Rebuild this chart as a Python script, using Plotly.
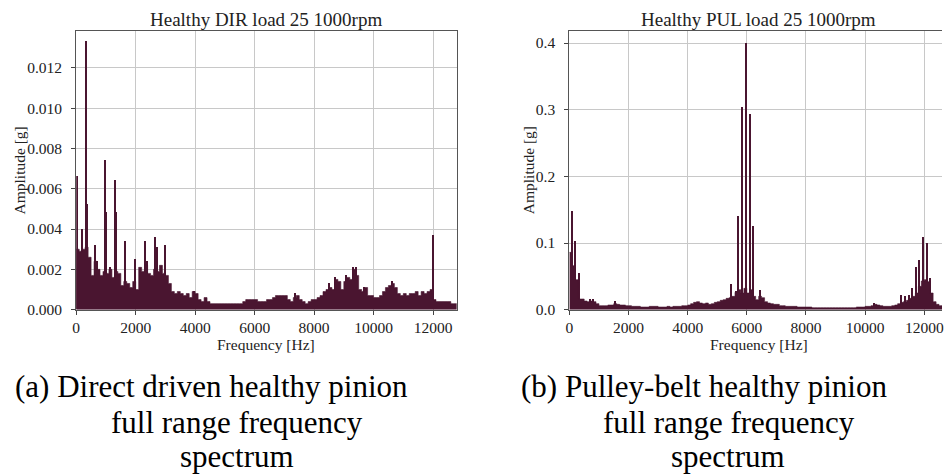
import plotly.graph_objects as go

# ---------------- data ----------------
freq_edges = list(range(0, 12801, 100))  # 100 Hz bins, 0..12800

dir_background = [
    0.0030, 0.0029, 0.0030, 0.0031, 0.0026, 0.0017, 0.0024, 0.0020, 0.0017, 0.0019,
    0.0018, 0.0020, 0.0016, 0.0019, 0.0018, 0.0012, 0.0014, 0.0013, 0.0011, 0.0014,
    0.0010, 0.0021, 0.0019, 0.0022, 0.0018, 0.0017, 0.0020, 0.0019, 0.0022, 0.0018,
    0.0017, 0.0013, 0.0009, 0.0008, 0.0009, 0.0008, 0.0007, 0.0008, 0.0006, 0.0009,
    0.0008, 0.0005, 0.0004, 0.0006, 0.0004, 0.0003, 0.0003, 0.0003, 0.0003, 0.0003,
    0.0003, 0.0003, 0.0003, 0.0003, 0.0003, 0.0003, 0.0004, 0.0005, 0.0005, 0.0005,
    0.0005, 0.0004, 0.0004, 0.0004, 0.0005, 0.0005, 0.0006, 0.0007, 0.0007, 0.0007,
    0.0007, 0.0005, 0.0004, 0.0006, 0.0007, 0.0005, 0.0004, 0.0003, 0.0004, 0.0005,
    0.0005, 0.0006, 0.0007, 0.0009, 0.0010, 0.0011, 0.0010, 0.0015, 0.0014, 0.0010,
    0.0014, 0.0016, 0.0015, 0.0020, 0.0017, 0.0010, 0.0009, 0.0011, 0.0007, 0.0007,
    0.0006, 0.0006, 0.0007, 0.0009, 0.0011, 0.0012, 0.0013, 0.0011, 0.0008, 0.0007,
    0.0008, 0.0007, 0.0008, 0.0008, 0.0009, 0.0007, 0.0009, 0.0008, 0.0009, 0.0010,
    0.0005, 0.0004, 0.0004, 0.0004, 0.0004, 0.0004, 0.0003, 0.0003,
]
dir_peak_freq = [25, 211, 330, 360, 656, 700, 990, 1024, 1135, 1324, 1356, 1658,
                 1988, 2316, 2383, 2673, 2718, 2996, 3990, 7380, 8500, 8712, 9100,
                 9330, 9420, 9700, 10650, 12000]
dir_peak_amp = [0.0066, 0.0040, 0.0133, 0.0052, 0.0032, 0.0024, 0.0074, 0.0048, 0.0021,
                0.0064, 0.0048, 0.0034, 0.0025, 0.0034, 0.0024, 0.0036, 0.0031, 0.0032,
                0.0009, 0.0008, 0.0013, 0.0016, 0.0017, 0.0021, 0.0021, 0.0011, 0.0014,
                0.0037]

pul_background = [
    0.086, 0.066, 0.045, 0.016, 0.016, 0.013, 0.012, 0.013, 0.012, 0.009,
    0.006, 0.006, 0.006, 0.007, 0.007, 0.009, 0.008, 0.007, 0.007, 0.006,
    0.006, 0.005, 0.005, 0.005, 0.004, 0.004, 0.004, 0.005, 0.005, 0.005,
    0.004, 0.004, 0.004, 0.005, 0.004, 0.005, 0.005, 0.005, 0.006, 0.006,
    0.007, 0.009, 0.011, 0.012, 0.010, 0.009, 0.010, 0.008, 0.009, 0.011,
    0.012, 0.014, 0.015, 0.017, 0.018, 0.020, 0.026, 0.030, 0.025, 0.032,
    0.025, 0.030, 0.020, 0.015, 0.020, 0.018, 0.012, 0.010, 0.009, 0.008,
    0.008, 0.006, 0.006, 0.005, 0.005, 0.005, 0.005, 0.004, 0.004, 0.004,
    0.004, 0.004, 0.003, 0.003, 0.003, 0.003, 0.003, 0.003, 0.003, 0.003,
    0.003, 0.003, 0.003, 0.003, 0.003, 0.003, 0.003, 0.004, 0.004, 0.004,
    0.005, 0.005, 0.006, 0.008, 0.007, 0.006, 0.005, 0.005, 0.005, 0.006,
    0.007, 0.009, 0.011, 0.012, 0.014, 0.017, 0.020, 0.025, 0.035, 0.043,
    0.045, 0.042, 0.025, 0.012, 0.008, 0.006, 0.005, 0.005,
]
pul_peak_freq = [100, 210, 335, 700, 815, 1570, 5500, 5640, 5720, 5855, 5990, 6112,
                 6212, 6480, 10330, 11230, 11370, 11500, 11620, 11730, 11840, 11985,
                 12120, 12210]
pul_peak_amp = [0.147, 0.103, 0.054, 0.016, 0.016, 0.013, 0.038, 0.028, 0.140, 0.304,
                0.399, 0.293, 0.125, 0.029, 0.010, 0.021, 0.020, 0.022, 0.032, 0.063,
                0.074, 0.108, 0.099, 0.047]

titles = ["Healthy DIR load 25 1000rpm", "Healthy PUL load 25 1000rpm"]
x_ticks = [0, 2000, 4000, 6000, 8000, 10000, 12000]
x_tick_labels = ["0", "2000", "4000", "6000", "8000", "10000", "12000"]
dir_y_ticks = [0.000, 0.002, 0.004, 0.006, 0.008, 0.010, 0.012]
dir_y_labels = ["0.000", "0.002", "0.004", "0.006", "0.008", "0.010", "0.012"]
pul_y_ticks = [0.0, 0.1, 0.2, 0.3, 0.4]
pul_y_labels = ["0.0", "0.1", "0.2", "0.3", "0.4"]
captions_a = ["(a) Direct driven healthy pinion", "full range frequency", "spectrum"]
captions_b = ["(b) Pulley-belt healthy pinion", "full range frequency", "spectrum"]

# ---------------- styling ----------------
W, H = 944, 474
COLOR = "rgb(74,21,48)"
FONT = "Liberation Serif"
TXT = "#222222"

fig = go.Figure()


def add_spectrum(bg, pf, pa, xa, ya):
    fig.add_trace(go.Scatter(
        x=freq_edges, y=bg + [bg[-1]], mode="lines",
        line=dict(shape="hv", width=0.6, color=COLOR),
        fill="tozeroy", fillcolor=COLOR, xaxis=xa, yaxis=ya,
        hoverinfo="skip", showlegend=False))
    fig.add_trace(go.Bar(
        x=pf, y=pa, width=45, marker=dict(color=COLOR, line=dict(width=0)),
        xaxis=xa, yaxis=ya, showlegend=False))


add_spectrum(dir_background, dir_peak_freq, dir_peak_amp, "x", "y")
add_spectrum(pul_background, pul_peak_freq, pul_peak_amp, "x2", "y2")

ydom = [1 - 315 / H, 1 - 32 / H]
axis_common = dict(
    showgrid=True, gridcolor="#c8c8c8", gridwidth=1, zeroline=False,
    showline=True, linecolor="#555555", linewidth=1.2,
    ticks="outside", ticklen=4, tickwidth=1, tickcolor="#444444",
    tickfont=dict(family=FONT, size=15.5, color=TXT),
)

fig.update_layout(
    width=W, height=H, margin=dict(l=0, r=0, t=0, b=0),
    paper_bgcolor="white", plot_bgcolor="white",
    barmode="overlay", bargap=0, showlegend=False,
    xaxis=dict(domain=[72.7 / W, 455.7 / W], range=[0, 12800], tickvals=x_ticks,
               ticktext=x_tick_labels, mirror=True, anchor="y", **axis_common),
    yaxis=dict(domain=ydom, range=[0, 0.0138], tickvals=dir_y_ticks, ticktext=dir_y_labels,
               mirror=True, anchor="x", ticklabelstandoff=6, **axis_common),
    xaxis2=dict(domain=[569 / W, 1.0], range=[0, 12600], tickvals=x_ticks,
                ticktext=x_tick_labels, mirror=True, anchor="y2",
                ticklabeloverflow="allow", **axis_common),
    yaxis2=dict(domain=ydom, range=[0, 0.4174], tickvals=pul_y_ticks, ticktext=pul_y_labels,
                mirror=False, anchor="x2", ticklabelstandoff=6, **axis_common),
)

ann = []


def add_text(text, x, y, size, color=TXT, angle=0):
    ann.append(dict(text=text, x=x / W, y=1 - y / H, xref="paper", yref="paper",
                    xanchor="center", yanchor="middle", showarrow=False,
                    textangle=angle, font=dict(family=FONT, size=size, color=color)))


# titles
add_text(titles[0], 264, 20, 19)
add_text(titles[1], 759.5, 20, 19)
# axis labels
add_text("Frequency [Hz]", 264, 350, 15.5)
add_text("Frequency [Hz]", 759.5, 350, 15.5)
add_text("Amplitude [g]", 16, 173.5, 15.5, angle=-90)
add_text("Amplitude [g]", 528, 173.5, 15.5, angle=-90)
# captions
cap_y = [393, 429.5, 464]
add_text(captions_a[0], 208.5, cap_y[0], 31, "black")
add_text(captions_a[1], 234, cap_y[1], 31, "black")
add_text(captions_a[2], 234, cap_y[2], 31, "black")
add_text(captions_b[0], 704.5, cap_y[0], 31, "black")
add_text(captions_b[1], 729.5, cap_y[1], 31, "black")
add_text(captions_b[2], 728.5, cap_y[2], 31, "black")

fig.update_layout(annotations=ann)
fig.write_html("out.html")
